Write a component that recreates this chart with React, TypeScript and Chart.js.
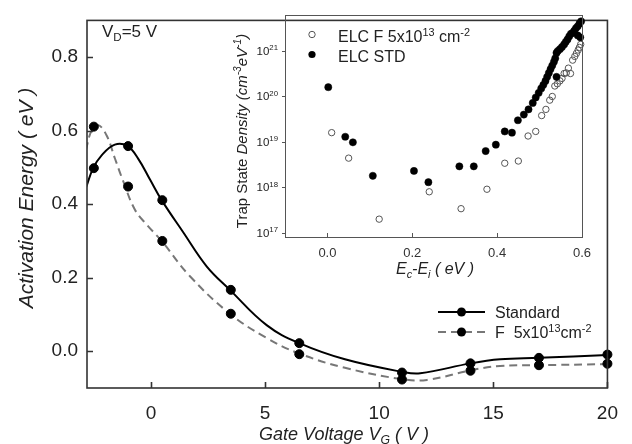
import React, { useEffect, useRef } from 'react';
import { Chart, registerables } from 'chart.js';

Chart.register(...registerables);

const FAMILY = '"Liberation Sans", Arial, Helvetica, sans-serif';

// ---- Main chart data (activation energy vs gate voltage) ----
const gateVoltage = [-2.5, -1.0, 0.5, 3.5, 6.5, 11, 14, 17, 20];
const eaStandard = [0.498, 0.558, 0.411, 0.167, 0.022, -0.058, -0.033, -0.018, -0.009];
const eaFluorine = [0.611, 0.448, 0.3, 0.102, -0.008, -0.077, -0.053, -0.038, -0.034];

// fitted curves
const stdFitV = [-2.85, -2.53, -2.16, -1.58, -1.02, -0.56, -0.04, 0.47, 1.4, 2.44, 3.46, 5.07, 6.5, 8.5, 11.0, 11.8, 14.0, 15.3, 17.0, 20.0];
const stdFitE = [0.444, 0.498, 0.533, 0.562, 0.558, 0.524, 0.467, 0.411, 0.325, 0.231, 0.167, 0.071, 0.022, -0.022, -0.056, -0.06, -0.033, -0.022, -0.018, -0.01];
const fFitV = [-2.85, -2.6, -2.31, -1.94, -1.58, -1.21, -0.7, -0.15, 0.47, 1.71, 3.46, 5.07, 6.53, 8.5, 11.0, 12.1, 14.0, 15.3, 17.0, 20.0];
const fFitE = [0.547, 0.6, 0.615, 0.587, 0.525, 0.462, 0.385, 0.342, 0.3, 0.204, 0.102, 0.036, -0.007, -0.045, -0.076, -0.078, -0.052, -0.04, -0.038, -0.035];

const mainXTicks = [0, 5, 10, 15, 20];
const mainYTicks = [0, 0.2, 0.4, 0.6, 0.8];

// ---- Inset data (trap state density vs Ec-Ei) ----
const stdEnergy = [0.002, 0.042, 0.06, 0.107, 0.204, 0.238, 0.311, 0.345, 0.373, 0.397, 0.418, 0.435, 0.449, 0.463, 0.474, 0.484, 0.491, 0.498, 0.504, 0.509, 0.514, 0.518, 0.522, 0.526, 0.53, 0.534, 0.537, 0.54, 0.543, 0.54, 0.548, 0.553, 0.558, 0.562, 0.566, 0.57, 0.574, 0.578, 0.582, 0.586, 0.59, 0.594, 0.598, 0.596, 0.59];
const stdDensity = [1.6e20, 1.3e19, 9.8e18, 1.8e18, 2.3e18, 1.3e18, 2.9e18, 2.9e18, 6.3e18, 8.7e18, 1.7e19, 1.6e19, 3.0e19, 4.0e19, 5.2e19, 7.2e19, 9.5e19, 1.2e20, 1.5e20, 1.8e20, 2.2e20, 2.7e20, 3.3e20, 4.0e20, 4.8e20, 5.8e20, 6.9e20, 9.1e20, 1.0e21, 2.7e20, 1.1e21, 1.23e21, 1.4e21, 1.6e21, 1.8e21, 2.1e21, 2.4e21, 2.5e21, 2.8e21, 3.2e21, 3.5e21, 4.0e21, 4.5e21, 2.0e21, 2.2e21];
const fEnergy = [0.01, 0.05, 0.122, 0.24, 0.315, 0.376, 0.418, 0.45, 0.473, 0.491, 0.505, 0.515, 0.524, 0.53, 0.536, 0.542, 0.548, 0.553, 0.558, 0.563, 0.568, 0.573, 0.578, 0.583, 0.587, 0.591, 0.594, 0.597];
const fDensity = [1.6e19, 4.4e18, 2.0e17, 8.0e17, 3.4e17, 9.1e17, 3.4e18, 3.8e18, 1.35e19, 1.7e19, 3.8e19, 5.2e19, 8.3e19, 1.0e20, 1.7e20, 1.9e20, 2.2e20, 2.5e20, 3.2e20, 3.3e20, 4.2e20, 3.2e20, 6.3e20, 7.6e20, 8.9e20, 1.05e21, 1.2e21, 1.4e21];

const insetXTicks = [0, 0.2, 0.4, 0.6];
const insetYExponents = [17, 18, 19, 20, 21];

type Seg = { t: string; s?: 'sup' | 'sub' };

function fontStr(size: number, italic: boolean) {
  return `${italic ? 'italic ' : ''}${size}px ${FAMILY}`;
}

function drawRich(
  ctx: CanvasRenderingContext2D,
  segs: Seg[],
  x: number,
  y: number,
  size: number,
  opts: { italic?: boolean; align?: 'left' | 'center' | 'right'; rotate?: boolean; color?: string; italicFrom?: number } = {}
) {
  const small = size * 0.68;
  ctx.save();
  ctx.textBaseline = 'alphabetic';
  ctx.textAlign = 'left';
  ctx.fillStyle = opts.color || '#222';
  const widths: number[] = [];
  let total = 0;
  segs.forEach((sg, i) => {
    const it = opts.italicFrom !== undefined ? i >= opts.italicFrom : !!opts.italic;
    ctx.font = fontStr(sg.s ? small : size, it);
    const w = ctx.measureText(sg.t).width;
    widths.push(w);
    total += w;
  });
  ctx.translate(x, y);
  if (opts.rotate) ctx.rotate(-Math.PI / 2);
  let cx = opts.align === 'center' ? -total / 2 : opts.align === 'right' ? -total : 0;
  segs.forEach((sg, i) => {
    const it = opts.italicFrom !== undefined ? i >= opts.italicFrom : !!opts.italic;
    ctx.font = fontStr(sg.s ? small : size, it);
    const dy = sg.s === 'sup' ? -size * 0.4 : sg.s === 'sub' ? size * 0.22 : 0;
    ctx.fillText(sg.t, cx, dy);
    cx += widths[i];
  });
  ctx.restore();
}

const mainDecor = {
  id: 'mainDecor',
  afterDraw(chart: any) {
    const { ctx, chartArea: a, scales } = chart;
    const xs = scales.x;
    const ys = scales.y;
    ctx.save();
    ctx.strokeStyle = '#333';
    ctx.lineWidth = 1.6;
    ctx.strokeRect(a.left, a.top, a.right - a.left, a.bottom - a.top);
    ctx.beginPath();
    mainXTicks.forEach((v) => {
      const px = Math.round(xs.getPixelForValue(v)) + 0.5;
      ctx.moveTo(px, a.bottom);
      ctx.lineTo(px, a.bottom - 6);
    });
    mainYTicks.forEach((v) => {
      const py = Math.round(ys.getPixelForValue(v)) + 0.5;
      ctx.moveTo(a.left, py);
      ctx.lineTo(a.left + 6, py);
    });
    ctx.stroke();

    // legend
    const lx0 = 438, lx1 = 485, mx = 461.5;
    ctx.lineWidth = 2;
    ctx.strokeStyle = '#000';
    ctx.beginPath();
    ctx.moveTo(lx0, 312);
    ctx.lineTo(lx1, 312);
    ctx.stroke();
    ctx.strokeStyle = '#777';
    ctx.setLineDash([8, 5]);
    ctx.beginPath();
    ctx.moveTo(lx0, 332);
    ctx.lineTo(lx1, 332);
    ctx.stroke();
    ctx.setLineDash([]);
    ctx.fillStyle = '#000';
    [312, 332].forEach((yy) => {
      ctx.beginPath();
      ctx.arc(mx, yy, 4.5, 0, Math.PI * 2);
      ctx.fill();
    });
    ctx.restore();

    drawRich(ctx, [{ t: 'Standard' }], 495, 318, 16);
    drawRich(ctx, [{ t: 'F  5x10' }, { t: '13', s: 'sup' }, { t: 'cm' }, { t: '-2', s: 'sup' }], 495, 338, 16);

    // annotation
    drawRich(ctx, [{ t: 'V' }, { t: 'D', s: 'sub' }, { t: '=5 V' }], 102, 37, 17);

    // axis titles
    drawRich(ctx, [{ t: 'Gate Voltage V' }, { t: 'G', s: 'sub' }, { t: ' ( V )' }], 344, 440, 18, { italic: true, align: 'center' });
    drawRich(ctx, [{ t: 'Activation Energy ( eV )' }], 33, 198, 21, { italic: true, align: 'center', rotate: true });
  },
};

const insetDecor = {
  id: 'insetDecor',
  afterDraw(chart: any) {
    const { ctx, chartArea: a, scales } = chart;
    const xs = scales.x;
    const ys = scales.y;
    ctx.save();
    ctx.strokeStyle = '#555';
    ctx.lineWidth = 1;
    ctx.strokeRect(Math.round(a.left) + 0.5, Math.round(a.top) + 0.5, Math.round(a.right - a.left), Math.round(a.bottom - a.top));
    ctx.beginPath();
    insetXTicks.forEach((v) => {
      const px = Math.round(xs.getPixelForValue(v)) + 0.5;
      ctx.moveTo(px, a.bottom);
      ctx.lineTo(px, a.bottom - 4);
    });
    insetYExponents.forEach((e) => {
      const py = Math.round(ys.getPixelForValue(Math.pow(10, e))) + 0.5;
      ctx.moveTo(a.left, py);
      ctx.lineTo(a.left - 3, py);
    });
    ctx.stroke();

    // legend markers
    ctx.fillStyle = '#fff';
    ctx.strokeStyle = '#555';
    ctx.beginPath();
    ctx.arc(87, 24.5, 3.2, 0, Math.PI * 2);
    ctx.fill();
    ctx.stroke();
    ctx.fillStyle = '#000';
    ctx.beginPath();
    ctx.arc(87, 44.5, 3.6, 0, Math.PI * 2);
    ctx.fill();
    ctx.restore();

    // y tick labels (10^n)
    insetYExponents.forEach((e) => {
      const py = ys.getPixelForValue(Math.pow(10, e));
      drawRich(ctx, [{ t: '10' }, { t: String(e), s: 'sup' }], a.left - 7, py + 4, 11.5, { align: 'right' });
    });

    drawRich(ctx, [{ t: 'ELC F 5x10' }, { t: '13', s: 'sup' }, { t: ' cm' }, { t: '-2', s: 'sup' }], 113, 32, 16);
    drawRich(ctx, [{ t: 'ELC STD' }], 113, 52, 16);

    drawRich(ctx, [{ t: 'E' }, { t: 'c', s: 'sub' }, { t: '-E' }, { t: 'i', s: 'sub' }, { t: ' ( eV )' }], 210, 264, 16, { italic: true, align: 'center' });
    drawRich(
      ctx,
      [{ t: 'Trap State ' }, { t: 'Density (cm' }, { t: '-3', s: 'sup' }, { t: 'eV' }, { t: '-1', s: 'sup' }, { t: ')' }],
      22,
      121,
      15,
      { align: 'center', rotate: true, italicFrom: 1 }
    );
  },
};

export default function App() {
  const mainRef = useRef<HTMLCanvasElement | null>(null);
  const insetRef = useRef<HTMLCanvasElement | null>(null);

  useEffect(() => {
    const tickFont = { family: FAMILY, size: 19 };
    const main = new Chart(mainRef.current as HTMLCanvasElement, {
      type: 'line',
      data: {
        datasets: [
          {
            label: 'Standard',
            data: gateVoltage.map((x, i) => ({ x, y: eaStandard[i] })),
            showLine: false,
            pointRadius: 4.5,
            pointBackgroundColor: '#000',
            pointBorderColor: '#000',
            borderColor: '#000',
            clip: false as any,
          },
          {
            label: 'F 5x10^13 cm^-2',
            data: gateVoltage.map((x, i) => ({ x, y: eaFluorine[i] })),
            showLine: false,
            pointRadius: 4.5,
            pointBackgroundColor: '#000',
            pointBorderColor: '#000',
            borderColor: '#000',
            clip: false as any,
          },
          {
            label: 'Standard fit',
            data: stdFitV.map((x, i) => ({ x, y: stdFitE[i] })),
            borderColor: '#000',
            borderWidth: 2,
            pointRadius: 0,
            tension: 0.4,
            fill: false,
          },
          {
            label: 'F fit',
            data: fFitV.map((x, i) => ({ x, y: fFitE[i] })),
            borderColor: '#777',
            borderWidth: 2,
            borderDash: [8, 5],
            pointRadius: 0,
            tension: 0.4,
            fill: false,
          },
        ],
      },
      options: {
        animation: false,
        responsive: false,
        maintainAspectRatio: false,
        events: [],
        layout: { padding: { left: 0, top: 13, right: 24, bottom: 0 } },
        plugins: { legend: { display: false }, tooltip: { enabled: false } },
        scales: {
          x: {
            type: 'linear',
            min: -2.8,
            max: 20,
            afterBuildTicks: (s: any) => {
              s.ticks = mainXTicks.map((v) => ({ value: v }));
            },
            afterFit: (s: any) => {
              s.height = 56;
            },
            grid: { display: false, drawTicks: false },
            border: { display: false },
            ticks: { font: tickFont, color: '#222', padding: 14, maxRotation: 0, callback: (v: any) => String(v) },
          },
          y: {
            type: 'linear',
            min: -0.1,
            max: 0.9,
            afterBuildTicks: (s: any) => {
              s.ticks = mainYTicks.map((v) => ({ value: v }));
            },
            afterFit: (s: any) => {
              s.width = 87;
            },
            grid: { display: false, drawTicks: false },
            border: { display: false },
            ticks: { font: tickFont, color: '#222', padding: 9, callback: (v: any) => Number(v).toFixed(1) },
          },
        },
      },
      plugins: [mainDecor],
    } as any);

    const inset = new Chart(insetRef.current as HTMLCanvasElement, {
      type: 'scatter',
      data: {
        datasets: [
          {
            label: 'ELC STD',
            data: stdEnergy.map((x, i) => ({ x, y: stdDensity[i] })),
            pointRadius: 3.6,
            pointBackgroundColor: '#000',
            pointBorderColor: '#000',
            pointBorderWidth: 0.5,
            clip: false as any,
          },
          {
            label: 'ELC F 5x10^13 cm^-2',
            data: fEnergy.map((x, i) => ({ x, y: fDensity[i] })),
            pointRadius: 3.2,
            pointBackgroundColor: 'rgba(255,255,255,0)',
            pointBorderColor: '#555',
            pointBorderWidth: 1,
            clip: false as any,
          },
        ],
      },
      options: {
        animation: false,
        responsive: false,
        maintainAspectRatio: false,
        events: [],
        layout: { padding: { left: 0, top: 5, right: 12, bottom: 0 } },
        plugins: { legend: { display: false }, tooltip: { enabled: false } },
        scales: {
          x: {
            type: 'linear',
            min: -0.1,
            max: 0.6,
            afterBuildTicks: (s: any) => {
              s.ticks = insetXTicks.map((v) => ({ value: v }));
            },
            afterFit: (s: any) => {
              s.height = 53;
            },
            grid: { display: false, drawTicks: false },
            border: { display: false },
            ticks: { font: { family: FAMILY, size: 13 }, color: '#333', padding: 9, maxRotation: 0, callback: (v: any) => Number(v).toFixed(1) },
          },
          y: {
            type: 'logarithmic',
            min: 8.1e16,
            max: 6.2e21,
            afterBuildTicks: (s: any) => {
              s.ticks = insetYExponents.map((e) => ({ value: Math.pow(10, e) }));
            },
            afterFit: (s: any) => {
              s.width = 60;
            },
            grid: { display: false, drawTicks: false },
            border: { display: false },
            ticks: { display: false },
          },
        },
      },
      plugins: [insetDecor],
    } as any);

    return () => {
      main.destroy();
      inset.destroy();
    };
  }, []);

  return (
    <div style={{ position: 'fixed', left: 0, top: 0, width: 632, height: 444, background: '#fff', overflow: 'hidden' }}>
      <canvas ref={mainRef} width={632} height={444} style={{ position: 'absolute', left: 0, top: 0, width: 632, height: 444 }} />
      <canvas ref={insetRef} width={375} height={280} style={{ position: 'absolute', left: 225, top: 10, width: 375, height: 280 }} />
    </div>
  );
}
